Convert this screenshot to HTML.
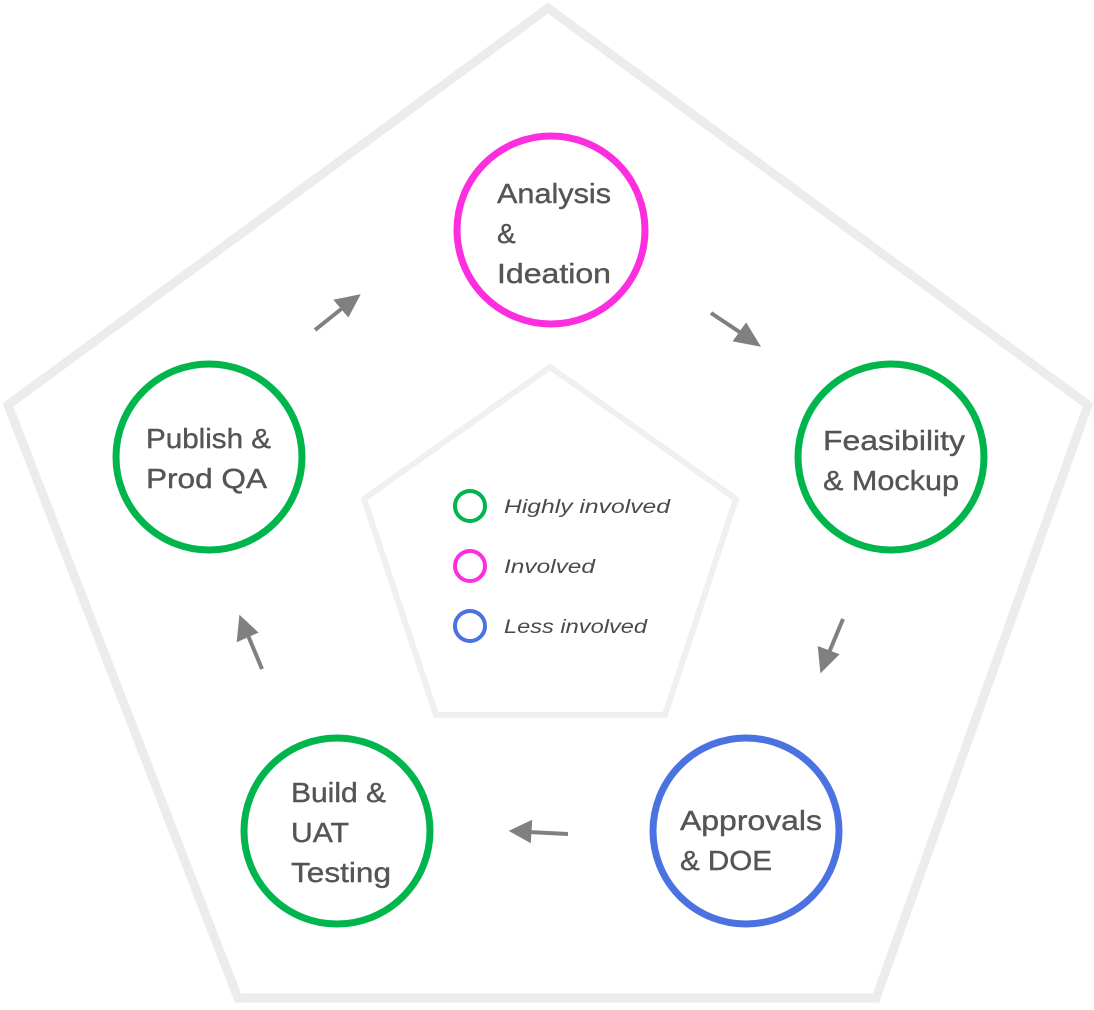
<!DOCTYPE html>
<html><head><meta charset="utf-8"><style>
body{margin:0;background:#fff}
svg text{font-family:"Liberation Sans",sans-serif;fill:#555}
.t{font-size:28px;stroke:#555;stroke-width:0.4}
.l{font-size:19px;font-style:italic;fill:#4a4a4a}
</style></head><body>
<svg width="1094" height="1005" viewBox="0 0 1094 1005" xmlns="http://www.w3.org/2000/svg">
<polygon points="548,8 1088,405 876,998 238,998 8,405" fill="none" stroke="#ececec" stroke-width="9"/>
<polygon points="550,367 736,499 665,715 436,715 364,499" fill="none" stroke="#f0f0f0" stroke-width="6"/>
<g fill="none" stroke-width="7">
<circle cx="551" cy="230" r="94" stroke="#fd2ee0"/>
<circle cx="891" cy="457" r="93" stroke="#00b64c"/>
<circle cx="209" cy="457" r="93" stroke="#00b64c"/>
<circle cx="337" cy="831" r="93" stroke="#00b64c"/>
<circle cx="746" cy="831" r="93" stroke="#4a72e0"/>
</g>
<g stroke="#808080" stroke-width="4" fill="#808080">
<line x1="315" y1="330" x2="345" y2="306"/><polygon points="357,297 337,301 348,314"/>
<line x1="711" y1="313" x2="744" y2="335"/><polygon points="757,344 746,326 736,340"/>
<line x1="843" y1="619" x2="828" y2="655"/><polygon points="822,669 820,649 836,655"/>
<line x1="568" y1="834" x2="528" y2="832"/><polygon points="513,831 530,823 529,840"/>
<line x1="262" y1="669" x2="247" y2="633"/><polygon points="241,619 239,639 255,632"/>
</g>
<text class="t" x="497" y="203" textLength="114" lengthAdjust="spacingAndGlyphs">Analysis</text>
<text class="t" x="497" y="243">&amp;</text>
<text class="t" x="497" y="283" textLength="114" lengthAdjust="spacingAndGlyphs">Ideation</text>
<text class="t" x="823" y="450" textLength="142" lengthAdjust="spacingAndGlyphs">Feasibility</text>
<text class="t" x="823" y="490" textLength="136" lengthAdjust="spacingAndGlyphs">&amp; Mockup</text>
<text class="t" x="146" y="448" textLength="125" lengthAdjust="spacingAndGlyphs">Publish &amp;</text>
<text class="t" x="146" y="488" textLength="121" lengthAdjust="spacingAndGlyphs">Prod QA</text>
<text class="t" x="291" y="802" textLength="95" lengthAdjust="spacingAndGlyphs">Build &amp;</text>
<text class="t" x="291" y="842" textLength="58" lengthAdjust="spacingAndGlyphs">UAT</text>
<text class="t" x="291" y="882" textLength="100" lengthAdjust="spacingAndGlyphs">Testing</text>
<text class="t" x="680" y="830" textLength="142" lengthAdjust="spacingAndGlyphs">Approvals</text>
<text class="t" x="680" y="870" textLength="92" lengthAdjust="spacingAndGlyphs">&amp; DOE</text>
<g fill="none" stroke-width="4">
<circle cx="470" cy="506" r="15" stroke="#00b64c"/>
<circle cx="470" cy="566" r="15" stroke="#fd2ee0"/>
<circle cx="470" cy="626" r="15" stroke="#4a72e0"/>
</g>
<text class="l" x="504" y="513" textLength="166" lengthAdjust="spacingAndGlyphs">Highly involved</text>
<text class="l" x="504" y="573" textLength="91" lengthAdjust="spacingAndGlyphs">Involved</text>
<text class="l" x="504" y="633" textLength="143" lengthAdjust="spacingAndGlyphs">Less involved</text>
</svg>
</body></html>
